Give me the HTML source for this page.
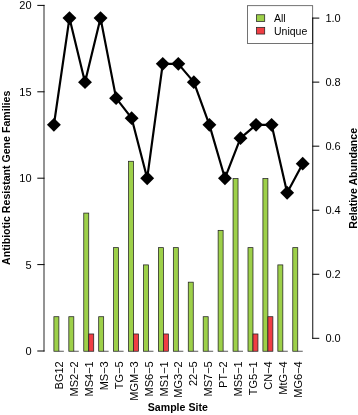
<!DOCTYPE html>
<html><head><meta charset="utf-8"><title>Antibiotic Resistant Gene Families</title>
<style>
html,body{margin:0;padding:0;background:#fff;}
svg{display:block;}
text{font-family:"Liberation Sans",Arial,Helvetica,sans-serif;font-size:11px;fill:#000;}
.b{font-weight:bold;font-size:10.6px;}
.lg{font-size:10.5px;}
</style></head><body>
<svg width="358" height="415" viewBox="0 0 358 415">
<rect width="358" height="415" fill="#fff"/>
<g stroke="#222" stroke-width="0.75">
<rect x="53.90" y="316.71" width="4.98" height="34.54" fill="#9DD049"/>
<line x1="58.88" y1="351.25" x2="63.86" y2="351.25"/>
<rect x="68.83" y="316.71" width="4.98" height="34.54" fill="#9DD049"/>
<line x1="73.81" y1="351.25" x2="78.79" y2="351.25"/>
<rect x="83.76" y="213.09" width="4.98" height="138.16" fill="#9DD049"/>
<rect x="88.74" y="333.98" width="4.98" height="17.27" fill="#F03E44"/>
<rect x="98.69" y="316.71" width="4.98" height="34.54" fill="#9DD049"/>
<line x1="103.67" y1="351.25" x2="108.65" y2="351.25"/>
<rect x="113.62" y="247.63" width="4.98" height="103.62" fill="#9DD049"/>
<line x1="118.60" y1="351.25" x2="123.58" y2="351.25"/>
<rect x="128.55" y="161.28" width="4.98" height="189.97" fill="#9DD049"/>
<rect x="133.53" y="333.98" width="4.98" height="17.27" fill="#F03E44"/>
<rect x="143.48" y="264.90" width="4.98" height="86.35" fill="#9DD049"/>
<line x1="148.46" y1="351.25" x2="153.44" y2="351.25"/>
<rect x="158.41" y="247.63" width="4.98" height="103.62" fill="#9DD049"/>
<rect x="163.39" y="333.98" width="4.98" height="17.27" fill="#F03E44"/>
<rect x="173.34" y="247.63" width="4.98" height="103.62" fill="#9DD049"/>
<line x1="178.32" y1="351.25" x2="183.30" y2="351.25"/>
<rect x="188.27" y="282.17" width="4.98" height="69.08" fill="#9DD049"/>
<line x1="193.25" y1="351.25" x2="198.23" y2="351.25"/>
<rect x="203.20" y="316.71" width="4.98" height="34.54" fill="#9DD049"/>
<line x1="208.18" y1="351.25" x2="213.16" y2="351.25"/>
<rect x="218.13" y="230.36" width="4.98" height="120.89" fill="#9DD049"/>
<line x1="223.11" y1="351.25" x2="228.09" y2="351.25"/>
<rect x="233.06" y="178.55" width="4.98" height="172.70" fill="#9DD049"/>
<line x1="238.04" y1="351.25" x2="243.02" y2="351.25"/>
<rect x="247.99" y="247.63" width="4.98" height="103.62" fill="#9DD049"/>
<rect x="252.97" y="333.98" width="4.98" height="17.27" fill="#F03E44"/>
<rect x="262.92" y="178.55" width="4.98" height="172.70" fill="#9DD049"/>
<rect x="267.90" y="316.71" width="4.98" height="34.54" fill="#F03E44"/>
<rect x="277.85" y="264.90" width="4.98" height="86.35" fill="#9DD049"/>
<line x1="282.83" y1="351.25" x2="287.81" y2="351.25"/>
<rect x="292.78" y="247.63" width="4.98" height="103.62" fill="#9DD049"/>
<line x1="297.76" y1="351.25" x2="302.74" y2="351.25"/>
</g>
<g stroke="#000" stroke-width="1" fill="none">
<path d="M44 4.9V351.5" stroke-width="0.85"/>
<path d="M37.3 5.40H44.5"/>
<path d="M37.3 91.80H44.5"/>
<path d="M37.3 178.20H44.5"/>
<path d="M37.3 264.60H44.5"/>
<path d="M37.3 351.00H44.5"/>
</g>
<text x="31.6" y="9.2" text-anchor="end">20</text>
<text x="31.6" y="95.7" text-anchor="end">15</text>
<text x="31.6" y="182.1" text-anchor="end">10</text>
<text x="31.6" y="268.5" text-anchor="end">5</text>
<text x="31.6" y="354.9" text-anchor="end">0</text>
<text x="325.4" y="342.1">0.0</text>
<text x="325.4" y="278.0">0.2</text>
<text x="325.4" y="214.0">0.4</text>
<text x="325.4" y="149.9">0.6</text>
<text x="325.4" y="85.9">0.8</text>
<text x="325.4" y="21.8">1.0</text>
<polyline fill="none" stroke="#000" stroke-width="2.2" stroke-linejoin="round" points="53.90,124.83 69.45,18.10 85.00,82.14 100.55,18.10 116.10,98.15 131.65,118.16 147.20,178.20 162.75,63.84 178.30,63.84 193.85,82.14 209.40,124.83 224.95,178.20 240.50,138.18 256.05,124.83 271.60,124.83 287.15,192.75 302.70,163.65"/>
<g fill="#000">
<path d="M53.90 117.88L60.85 124.83L53.90 131.78L46.95 124.83Z"/>
<path d="M69.45 11.15L76.40 18.10L69.45 25.05L62.50 18.10Z"/>
<path d="M85.00 75.19L91.95 82.14L85.00 89.09L78.05 82.14Z"/>
<path d="M100.55 11.15L107.50 18.10L100.55 25.05L93.60 18.10Z"/>
<path d="M116.10 91.20L123.05 98.15L116.10 105.10L109.15 98.15Z"/>
<path d="M131.65 111.21L138.60 118.16L131.65 125.11L124.70 118.16Z"/>
<path d="M147.20 171.25L154.15 178.20L147.20 185.15L140.25 178.20Z"/>
<path d="M162.75 56.89L169.70 63.84L162.75 70.79L155.80 63.84Z"/>
<path d="M178.30 56.89L185.25 63.84L178.30 70.79L171.35 63.84Z"/>
<path d="M193.85 75.19L200.80 82.14L193.85 89.09L186.90 82.14Z"/>
<path d="M209.40 117.88L216.35 124.83L209.40 131.78L202.45 124.83Z"/>
<path d="M224.95 171.25L231.90 178.20L224.95 185.15L218.00 178.20Z"/>
<path d="M240.50 131.23L247.45 138.18L240.50 145.12L233.55 138.18Z"/>
<path d="M256.05 117.88L263.00 124.83L256.05 131.78L249.10 124.83Z"/>
<path d="M271.60 117.88L278.55 124.83L271.60 131.78L264.65 124.83Z"/>
<path d="M287.15 185.80L294.10 192.75L287.15 199.70L280.20 192.75Z"/>
<path d="M302.70 156.70L309.65 163.65L302.70 170.60L295.75 163.65Z"/>
</g>
<rect x="247.4" y="5.7" width="65.3" height="37.85" fill="#fff" stroke="#444" stroke-width="0.75"/>
<rect x="256.5" y="14.75" width="8.2" height="6.7" fill="#9DD049" stroke="#222" stroke-width="0.75"/>
<rect x="256.5" y="27.35" width="8.2" height="6.7" fill="#F03E44" stroke="#222" stroke-width="0.75"/>
<text class="lg" x="274.0" y="21.7">All</text>
<text class="lg" x="274.0" y="34.6">Unique</text>
<g stroke="#000" stroke-width="1" fill="none">
<path d="M312.75 17.60V338.80" stroke-width="0.95"/>
<path d="M312.3 338.30H319.3"/>
<path d="M312.3 274.26H319.3"/>
<path d="M312.3 210.22H319.3"/>
<path d="M312.3 146.18H319.3"/>
<path d="M312.3 82.14H319.3"/>
<path d="M312.3 18.10H319.3"/>
</g>
<text transform="translate(63.0 361.3) rotate(-90)" text-anchor="end">BG12</text>
<text transform="translate(77.9 361.3) rotate(-90)" text-anchor="end">MS2−2</text>
<text transform="translate(92.9 361.3) rotate(-90)" text-anchor="end">MS4−1</text>
<text transform="translate(107.8 361.3) rotate(-90)" text-anchor="end">MS−3</text>
<text transform="translate(122.7 361.3) rotate(-90)" text-anchor="end">TG−5</text>
<text transform="translate(137.7 361.3) rotate(-90)" text-anchor="end">MGM−3</text>
<text transform="translate(152.6 361.3) rotate(-90)" text-anchor="end">MS6−5</text>
<text transform="translate(167.5 361.3) rotate(-90)" text-anchor="end">MS1−1</text>
<text transform="translate(182.4 361.3) rotate(-90)" text-anchor="end">MG3−2</text>
<text transform="translate(197.4 361.3) rotate(-90)" text-anchor="end">22−5</text>
<text transform="translate(212.3 361.3) rotate(-90)" text-anchor="end">MS7−5</text>
<text transform="translate(227.2 361.3) rotate(-90)" text-anchor="end">PT−2</text>
<text transform="translate(242.2 361.3) rotate(-90)" text-anchor="end">MS5−1</text>
<text transform="translate(257.1 361.3) rotate(-90)" text-anchor="end">TG5−1</text>
<text transform="translate(272.0 361.3) rotate(-90)" text-anchor="end">CN−4</text>
<text transform="translate(286.9 361.3) rotate(-90)" text-anchor="end">MtG−4</text>
<text transform="translate(301.9 361.3) rotate(-90)" text-anchor="end">MG6−4</text>
<text class="b" x="177.8" y="411.2" text-anchor="middle">Sample Site</text>
<text class="b" transform="translate(10.2 177.8) rotate(-90)" text-anchor="middle">Antibiotic Resistant Gene Families</text>
<text class="b" transform="translate(356.5 178.3) rotate(-90)" text-anchor="middle">Relative Abundance</text>
</svg>
</body></html>
